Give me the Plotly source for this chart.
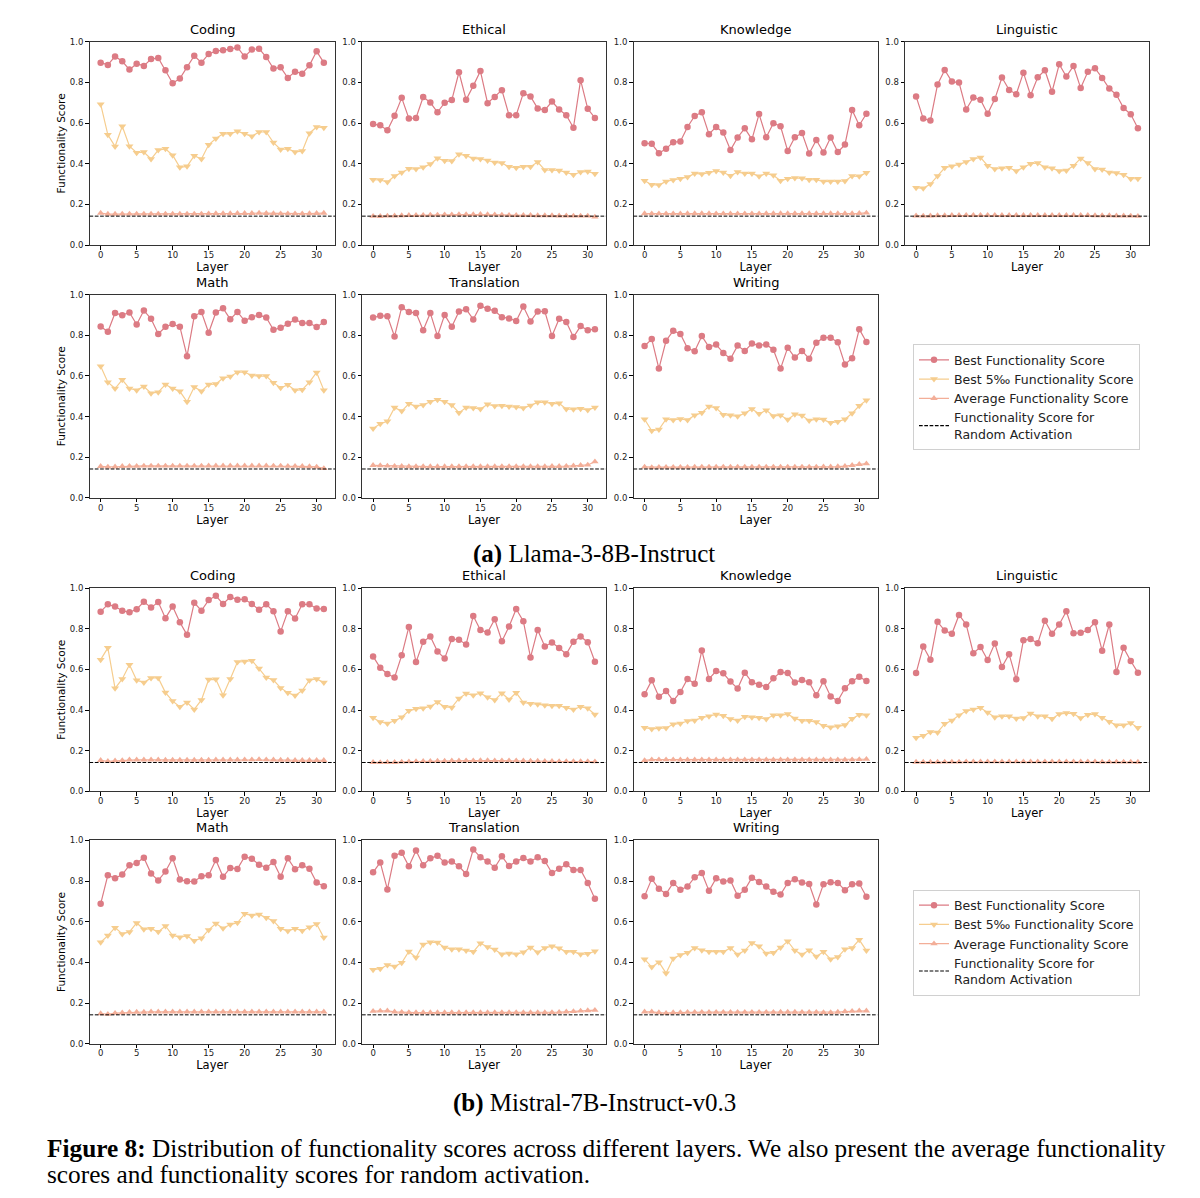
import plotly.graph_objects as go

# ---------------- data ----------------
layers = list(range(32))
categories = ["Coding", "Ethical", "Knowledge", "Linguistic", "Math", "Translation", "Writing"]
random_score = 0.142
x_ticks = [0, 5, 10, 15, 20, 25, 30]
y_ticks = [0.0, 0.2, 0.4, 0.6, 0.8, 1.0]
series_names = ["Best Functionality Score", "Best 5‰ Functionality Score",
                "Average Functionality Score", "Functionality Score for<br>Random Activation"]
section_titles = ["<b>(a)</b> Llama-3-8B-Instruct", "<b>(b)</b> Mistral-7B-Instruct-v0.3"]
caption_line1 = ("<b>Figure 8:</b> Distribution of functionality scores across different layers. "
                 "We also present the average functionality")
caption_line2 = "scores and functionality scores for random activation."

# Llama-3-8B-Instruct
llama_coding_best = [0.897, 0.886, 0.928, 0.904, 0.863, 0.892, 0.881, 0.915, 0.920, 0.860, 0.796, 0.819,
                     0.874, 0.931, 0.897, 0.940, 0.954, 0.958, 0.964, 0.972, 0.927, 0.962, 0.966, 0.925,
                     0.868, 0.874, 0.822, 0.853, 0.843, 0.884, 0.953, 0.897]
llama_coding_top = [0.693, 0.542, 0.485, 0.584, 0.486, 0.454, 0.457, 0.423, 0.467, 0.473, 0.442, 0.382,
                    0.387, 0.439, 0.423, 0.493, 0.524, 0.547, 0.547, 0.560, 0.547, 0.535, 0.556, 0.556,
                    0.504, 0.470, 0.473, 0.458, 0.462, 0.550, 0.581, 0.577]
llama_coding_avg = [0.157, 0.152, 0.152, 0.153, 0.153, 0.153, 0.153, 0.153, 0.153, 0.153, 0.153, 0.153,
                    0.153, 0.153, 0.153, 0.154, 0.155, 0.155, 0.155, 0.156, 0.156, 0.156, 0.157, 0.156,
                    0.155, 0.154, 0.154, 0.154, 0.154, 0.155, 0.156, 0.157]

llama_ethical_best = [0.595, 0.589, 0.564, 0.636, 0.724, 0.623, 0.625, 0.728, 0.701, 0.653, 0.700, 0.713,
                      0.850, 0.715, 0.783, 0.856, 0.698, 0.728, 0.762, 0.639, 0.639, 0.747, 0.731, 0.672,
                      0.664, 0.706, 0.667, 0.639, 0.577, 0.811, 0.670, 0.625]
llama_ethical_top = [0.321, 0.320, 0.310, 0.339, 0.357, 0.375, 0.374, 0.382, 0.398, 0.427, 0.414, 0.413,
                     0.447, 0.439, 0.426, 0.423, 0.416, 0.406, 0.403, 0.385, 0.380, 0.385, 0.385, 0.408,
                     0.369, 0.369, 0.367, 0.357, 0.346, 0.359, 0.362, 0.351]
llama_ethical_avg = [0.142, 0.141, 0.143, 0.144, 0.145, 0.146, 0.146, 0.147, 0.148, 0.148, 0.149, 0.149,
                     0.150, 0.150, 0.150, 0.151, 0.150, 0.149, 0.148, 0.147, 0.146, 0.146, 0.146, 0.145,
                     0.145, 0.145, 0.144, 0.144, 0.143, 0.143, 0.143, 0.138]

llama_knowledge_best = [0.501, 0.498, 0.452, 0.473, 0.506, 0.509, 0.581, 0.635, 0.653, 0.545, 0.581, 0.553,
                        0.467, 0.529, 0.574, 0.520, 0.644, 0.530, 0.599, 0.584, 0.463, 0.530, 0.551, 0.450,
                        0.517, 0.455, 0.529, 0.457, 0.494, 0.664, 0.589, 0.646]
llama_knowledge_top = [0.316, 0.297, 0.295, 0.313, 0.320, 0.326, 0.334, 0.352, 0.349, 0.356, 0.364, 0.357,
                       0.341, 0.359, 0.352, 0.352, 0.338, 0.352, 0.343, 0.316, 0.326, 0.330, 0.328, 0.321,
                       0.321, 0.312, 0.312, 0.312, 0.315, 0.339, 0.338, 0.356]
llama_knowledge_avg = [0.155, 0.154, 0.154, 0.154, 0.154, 0.154, 0.155, 0.155, 0.155, 0.155, 0.154, 0.154,
                       0.154, 0.154, 0.154, 0.154, 0.154, 0.155, 0.155, 0.155, 0.155, 0.155, 0.155, 0.155,
                       0.155, 0.155, 0.155, 0.155, 0.155, 0.155, 0.156, 0.158]

llama_linguistic_best = [0.731, 0.622, 0.612, 0.790, 0.861, 0.804, 0.799, 0.667, 0.726, 0.715, 0.646, 0.718,
                         0.824, 0.763, 0.742, 0.848, 0.737, 0.825, 0.860, 0.754, 0.889, 0.829, 0.881, 0.772,
                         0.852, 0.870, 0.822, 0.770, 0.739, 0.674, 0.643, 0.574]
llama_linguistic_top = [0.282, 0.279, 0.300, 0.339, 0.380, 0.388, 0.396, 0.409, 0.423, 0.431, 0.390, 0.374,
                        0.378, 0.380, 0.364, 0.383, 0.400, 0.403, 0.382, 0.378, 0.364, 0.367, 0.390, 0.426,
                        0.403, 0.374, 0.372, 0.357, 0.354, 0.346, 0.326, 0.326]
llama_linguistic_avg = [0.144, 0.143, 0.144, 0.145, 0.145, 0.146, 0.146, 0.147, 0.147, 0.147, 0.147, 0.147,
                        0.146, 0.146, 0.146, 0.146, 0.146, 0.146, 0.146, 0.146, 0.146, 0.146, 0.146, 0.146,
                        0.146, 0.145, 0.145, 0.145, 0.144, 0.144, 0.143, 0.142]

llama_math_best = [0.843, 0.817, 0.909, 0.899, 0.912, 0.853, 0.922, 0.881, 0.806, 0.842, 0.855, 0.842,
                   0.697, 0.894, 0.914, 0.812, 0.912, 0.933, 0.879, 0.915, 0.871, 0.889, 0.900, 0.887,
                   0.827, 0.837, 0.856, 0.878, 0.860, 0.860, 0.840, 0.865]
llama_math_top = [0.648, 0.569, 0.538, 0.581, 0.538, 0.530, 0.548, 0.515, 0.520, 0.558, 0.538, 0.524,
                  0.473, 0.545, 0.525, 0.558, 0.560, 0.589, 0.597, 0.618, 0.618, 0.602, 0.599, 0.599,
                  0.566, 0.542, 0.556, 0.529, 0.532, 0.569, 0.617, 0.530]
llama_math_avg = [0.155, 0.152, 0.153, 0.155, 0.156, 0.156, 0.157, 0.157, 0.157, 0.157, 0.157, 0.157,
                  0.157, 0.157, 0.157, 0.158, 0.158, 0.158, 0.158, 0.158, 0.158, 0.158, 0.158, 0.158,
                  0.157, 0.157, 0.156, 0.156, 0.155, 0.154, 0.152, 0.145]

llama_translation_best = [0.887, 0.896, 0.894, 0.794, 0.938, 0.914, 0.910, 0.825, 0.909, 0.796, 0.900, 0.842,
                          0.917, 0.928, 0.878, 0.945, 0.930, 0.920, 0.889, 0.883, 0.870, 0.941, 0.868, 0.917,
                          0.918, 0.796, 0.881, 0.865, 0.791, 0.845, 0.825, 0.830]
llama_translation_top = [0.341, 0.365, 0.377, 0.444, 0.427, 0.463, 0.450, 0.457, 0.473, 0.483, 0.473, 0.457,
                         0.419, 0.444, 0.442, 0.437, 0.460, 0.452, 0.453, 0.449, 0.447, 0.442, 0.455, 0.470,
                         0.471, 0.463, 0.465, 0.437, 0.436, 0.439, 0.432, 0.445]
llama_translation_avg = [0.160, 0.159, 0.157, 0.156, 0.155, 0.154, 0.154, 0.154, 0.154, 0.154, 0.154, 0.154,
                         0.154, 0.154, 0.154, 0.154, 0.154, 0.154, 0.154, 0.154, 0.154, 0.154, 0.154, 0.154,
                         0.154, 0.155, 0.155, 0.156, 0.158, 0.160, 0.162, 0.178]

llama_writing_best = [0.747, 0.781, 0.636, 0.773, 0.822, 0.806, 0.736, 0.721, 0.796, 0.742, 0.754, 0.713,
                      0.684, 0.749, 0.723, 0.759, 0.750, 0.755, 0.729, 0.636, 0.739, 0.690, 0.723, 0.685,
                      0.763, 0.788, 0.788, 0.765, 0.656, 0.687, 0.830, 0.767]
llama_writing_top = [0.387, 0.330, 0.336, 0.387, 0.383, 0.388, 0.383, 0.406, 0.419, 0.450, 0.442, 0.409,
                     0.406, 0.401, 0.416, 0.437, 0.414, 0.431, 0.403, 0.406, 0.385, 0.411, 0.405, 0.380,
                     0.387, 0.385, 0.369, 0.375, 0.387, 0.416, 0.453, 0.480]
llama_writing_avg = [0.152, 0.150, 0.151, 0.151, 0.151, 0.151, 0.151, 0.152, 0.152, 0.152, 0.152, 0.152,
                     0.152, 0.152, 0.152, 0.152, 0.152, 0.152, 0.152, 0.152, 0.152, 0.152, 0.152, 0.152,
                     0.152, 0.153, 0.153, 0.154, 0.156, 0.160, 0.165, 0.168]

# Mistral-7B-Instruct-v0.3
mistral_coding_best = [0.884, 0.920, 0.909, 0.889, 0.881, 0.896, 0.933, 0.904, 0.931, 0.852, 0.910, 0.832,
                       0.770, 0.928, 0.889, 0.941, 0.962, 0.922, 0.956, 0.943, 0.945, 0.922, 0.894, 0.920,
                       0.886, 0.786, 0.886, 0.850, 0.920, 0.920, 0.899, 0.897]
mistral_coding_top = [0.648, 0.706, 0.507, 0.553, 0.623, 0.547, 0.535, 0.558, 0.558, 0.486, 0.444, 0.416,
                      0.437, 0.403, 0.450, 0.550, 0.551, 0.473, 0.553, 0.636, 0.639, 0.643, 0.604, 0.560,
                      0.548, 0.509, 0.485, 0.471, 0.496, 0.547, 0.553, 0.535]
mistral_coding_avg = [0.153, 0.148, 0.150, 0.152, 0.155, 0.155, 0.155, 0.155, 0.155, 0.154, 0.154, 0.154,
                      0.154, 0.154, 0.154, 0.154, 0.155, 0.155, 0.155, 0.155, 0.156, 0.156, 0.157, 0.156,
                      0.155, 0.154, 0.154, 0.153, 0.153, 0.153, 0.153, 0.153]

mistral_ethical_best = [0.664, 0.608, 0.577, 0.560, 0.669, 0.809, 0.636, 0.736, 0.762, 0.688, 0.654, 0.750,
                        0.746, 0.723, 0.863, 0.794, 0.781, 0.847, 0.739, 0.811, 0.897, 0.837, 0.659, 0.794,
                        0.713, 0.732, 0.705, 0.675, 0.736, 0.762, 0.734, 0.638]
mistral_ethical_top = [0.362, 0.341, 0.334, 0.347, 0.365, 0.396, 0.406, 0.409, 0.418, 0.439, 0.416, 0.413,
                       0.457, 0.481, 0.473, 0.483, 0.463, 0.449, 0.483, 0.452, 0.485, 0.437, 0.431, 0.429,
                       0.423, 0.421, 0.421, 0.411, 0.403, 0.416, 0.409, 0.378]
mistral_ethical_avg = [0.143, 0.142, 0.143, 0.143, 0.145, 0.146, 0.147, 0.148, 0.148, 0.149, 0.149, 0.150,
                       0.150, 0.151, 0.151, 0.152, 0.152, 0.151, 0.151, 0.151, 0.151, 0.150, 0.149, 0.149,
                       0.148, 0.148, 0.147, 0.147, 0.147, 0.147, 0.147, 0.146]

mistral_knowledge_best = [0.478, 0.546, 0.465, 0.494, 0.445, 0.489, 0.553, 0.529, 0.693, 0.553, 0.592, 0.581,
                          0.540, 0.506, 0.584, 0.537, 0.525, 0.514, 0.556, 0.587, 0.582, 0.535, 0.548, 0.537,
                          0.473, 0.542, 0.467, 0.445, 0.507, 0.542, 0.564, 0.543]
mistral_knowledge_top = [0.313, 0.307, 0.310, 0.312, 0.330, 0.334, 0.346, 0.349, 0.362, 0.370, 0.378, 0.372,
                         0.356, 0.349, 0.367, 0.364, 0.362, 0.356, 0.374, 0.374, 0.380, 0.359, 0.347, 0.347,
                         0.341, 0.323, 0.315, 0.320, 0.326, 0.357, 0.377, 0.375]
mistral_knowledge_avg = [0.152, 0.156, 0.156, 0.156, 0.156, 0.155, 0.155, 0.155, 0.155, 0.155, 0.155, 0.155,
                         0.155, 0.155, 0.155, 0.155, 0.155, 0.155, 0.155, 0.155, 0.155, 0.155, 0.155, 0.155,
                         0.155, 0.155, 0.155, 0.155, 0.155, 0.156, 0.157, 0.158]

mistral_linguistic_best = [0.582, 0.713, 0.648, 0.834, 0.791, 0.775, 0.868, 0.821, 0.680, 0.710, 0.646, 0.728,
                           0.612, 0.675, 0.551, 0.744, 0.749, 0.729, 0.839, 0.775, 0.821, 0.886, 0.778, 0.780,
                           0.794, 0.832, 0.692, 0.821, 0.587, 0.706, 0.641, 0.584]
mistral_linguistic_top = [0.264, 0.274, 0.292, 0.290, 0.333, 0.349, 0.374, 0.395, 0.403, 0.411, 0.388, 0.365,
                          0.370, 0.369, 0.359, 0.361, 0.383, 0.370, 0.370, 0.357, 0.380, 0.385, 0.382, 0.361,
                          0.377, 0.380, 0.362, 0.343, 0.325, 0.325, 0.336, 0.313]
mistral_linguistic_avg = [0.144, 0.144, 0.144, 0.144, 0.145, 0.145, 0.145, 0.146, 0.146, 0.146, 0.146, 0.146,
                          0.146, 0.146, 0.146, 0.146, 0.146, 0.146, 0.146, 0.146, 0.146, 0.146, 0.146, 0.146,
                          0.146, 0.146, 0.145, 0.145, 0.145, 0.145, 0.145, 0.144]

mistral_math_best = [0.688, 0.829, 0.814, 0.832, 0.878, 0.889, 0.915, 0.837, 0.803, 0.847, 0.912, 0.808,
                     0.799, 0.798, 0.824, 0.829, 0.904, 0.821, 0.865, 0.860, 0.920, 0.910, 0.881, 0.866,
                     0.894, 0.821, 0.912, 0.858, 0.878, 0.861, 0.793, 0.775]
mistral_math_top = [0.499, 0.532, 0.571, 0.540, 0.550, 0.594, 0.563, 0.566, 0.551, 0.579, 0.532, 0.524,
                    0.530, 0.507, 0.519, 0.560, 0.591, 0.568, 0.586, 0.595, 0.639, 0.631, 0.636, 0.620,
                    0.604, 0.566, 0.555, 0.566, 0.556, 0.573, 0.589, 0.522]
mistral_math_avg = [0.148, 0.145, 0.150, 0.152, 0.155, 0.156, 0.156, 0.157, 0.157, 0.157, 0.157, 0.157,
                    0.157, 0.157, 0.157, 0.157, 0.157, 0.157, 0.157, 0.157, 0.157, 0.157, 0.157, 0.157,
                    0.157, 0.157, 0.157, 0.157, 0.157, 0.157, 0.157, 0.157]

mistral_translation_best = [0.843, 0.892, 0.759, 0.925, 0.940, 0.873, 0.951, 0.878, 0.912, 0.925, 0.891, 0.897,
                            0.873, 0.835, 0.956, 0.917, 0.897, 0.866, 0.922, 0.874, 0.897, 0.914, 0.897, 0.917,
                            0.899, 0.840, 0.861, 0.883, 0.855, 0.855, 0.791, 0.713]
mistral_translation_top = [0.364, 0.369, 0.387, 0.380, 0.398, 0.454, 0.424, 0.488, 0.499, 0.498, 0.473, 0.465,
                           0.465, 0.458, 0.452, 0.494, 0.476, 0.463, 0.440, 0.444, 0.440, 0.450, 0.473, 0.450,
                           0.471, 0.480, 0.470, 0.452, 0.453, 0.440, 0.442, 0.455]
mistral_translation_avg = [0.160, 0.161, 0.162, 0.157, 0.155, 0.154, 0.153, 0.153, 0.153, 0.153, 0.153, 0.153,
                           0.153, 0.153, 0.153, 0.153, 0.153, 0.153, 0.153, 0.153, 0.153, 0.153, 0.153, 0.153,
                           0.153, 0.154, 0.155, 0.157, 0.159, 0.161, 0.163, 0.165]

mistral_writing_best = [0.726, 0.811, 0.762, 0.737, 0.791, 0.757, 0.773, 0.819, 0.840, 0.752, 0.814, 0.798,
                        0.803, 0.728, 0.757, 0.817, 0.796, 0.773, 0.747, 0.734, 0.791, 0.809, 0.793, 0.786,
                        0.685, 0.785, 0.794, 0.791, 0.755, 0.785, 0.788, 0.723]
mistral_writing_top = [0.416, 0.377, 0.401, 0.347, 0.419, 0.437, 0.447, 0.471, 0.460, 0.453, 0.453, 0.452,
                       0.471, 0.439, 0.458, 0.496, 0.480, 0.444, 0.447, 0.473, 0.504, 0.458, 0.439, 0.460,
                       0.429, 0.452, 0.416, 0.426, 0.465, 0.471, 0.511, 0.458]
mistral_writing_avg = [0.157, 0.157, 0.153, 0.150, 0.153, 0.154, 0.155, 0.155, 0.155, 0.155, 0.155, 0.155,
                       0.155, 0.155, 0.155, 0.155, 0.155, 0.155, 0.155, 0.156, 0.156, 0.156, 0.155, 0.155,
                       0.155, 0.154, 0.154, 0.156, 0.158, 0.160, 0.162, 0.162]

llama = {
    "Coding": (llama_coding_best, llama_coding_top, llama_coding_avg),
    "Ethical": (llama_ethical_best, llama_ethical_top, llama_ethical_avg),
    "Knowledge": (llama_knowledge_best, llama_knowledge_top, llama_knowledge_avg),
    "Linguistic": (llama_linguistic_best, llama_linguistic_top, llama_linguistic_avg),
    "Math": (llama_math_best, llama_math_top, llama_math_avg),
    "Translation": (llama_translation_best, llama_translation_top, llama_translation_avg),
    "Writing": (llama_writing_best, llama_writing_top, llama_writing_avg),
}
mistral = {
    "Coding": (mistral_coding_best, mistral_coding_top, mistral_coding_avg),
    "Ethical": (mistral_ethical_best, mistral_ethical_top, mistral_ethical_avg),
    "Knowledge": (mistral_knowledge_best, mistral_knowledge_top, mistral_knowledge_avg),
    "Linguistic": (mistral_linguistic_best, mistral_linguistic_top, mistral_linguistic_avg),
    "Math": (mistral_math_best, mistral_math_top, mistral_math_avg),
    "Translation": (mistral_translation_best, mistral_translation_top, mistral_translation_avg),
    "Writing": (mistral_writing_best, mistral_writing_top, mistral_writing_avg),
}

# ---------------- layout / style ----------------
OFF = 8  # default body margin of the html page
W, H = 1200 - 2 * OFF, 1198 - 2 * OFF
FONT = "DejaVu Sans"
SERIF = "Liberation Serif"
C_BEST = "#DC7B84"
C_TOP = "#F6CD8E"
C_AVG = "#F3AE98"

col_px = [(89.5, 335.0), (362.0, 606.0), (633.5, 877.5), (905.0, 1149.0)]
row_px = [(37.0, 242.0), (292.0, 497.0), (588.0, 793.0), (842.5, 1047.5)]


def px_x(v):
    return (v - OFF) / W


def px_y(v):
    return 1 - (v - OFF) / H


fig = go.Figure()
layout = dict(
    width=W, height=H, margin=dict(l=0, r=0, t=0, b=0),
    paper_bgcolor="white", plot_bgcolor="white",
    font=dict(family=FONT, color="black"),
    annotations=[], shapes=[],
)

DASH = "3.7px,1.6px"

panel = 0
for s, data in enumerate([llama, mistral]):
    legend_name = "legend" if s == 0 else "legend2"
    for ci, cat in enumerate(categories):
        panel += 1
        r = s * 2 + (ci // 4)
        c = ci % 4
        xa = "x" if panel == 1 else f"x{panel}"
        ya = "y" if panel == 1 else f"y{panel}"
        xkey = "xaxis" if panel == 1 else f"xaxis{panel}"
        ykey = "yaxis" if panel == 1 else f"yaxis{panel}"
        x0, x1 = col_px[c]
        y0, y1 = row_px[r]
        layout[xkey] = dict(
            domain=[px_x(x0), px_x(x1)], anchor=ya, range=[-1.55, 32.55],
            tickmode="array", tickvals=x_ticks, ticks="outside", ticklen=3.5, tickwidth=0.8,
            tickcolor="black", showline=True, linecolor="#333", linewidth=1, mirror=True,
            showgrid=False, zeroline=False, tickfont=dict(size=8.5, color="#222"),
            ticklabelstandoff=-2,
            title=dict(text="Layer", font=dict(size=11.5), standoff=0),
        )
        layout[ykey] = dict(
            domain=[px_y(y1), px_y(y0)], anchor=xa, range=[0, 1.0],
            tickmode="array", tickvals=y_ticks, tickformat=".1f", ticks="outside", ticklen=3.5,
            tickwidth=0.8, tickcolor="black", showline=True, linecolor="#333", linewidth=1,
            mirror=True, showgrid=False, zeroline=False, tickfont=dict(size=8.5, color="#222"),
        )
        if c == 0:
            layout[ykey]["title"] = dict(text="Functionality Score", font=dict(size=10.5), standoff=2)
        layout["annotations"].append(dict(
            text=cat, x=px_x((x0 + x1) / 2), y=px_y(y0 - 3), xref="paper", yref="paper",
            xanchor="center", yanchor="bottom", showarrow=False, font=dict(size=13, family=FONT),
        ))
        best, top, avg = data[cat]
        show = cat == "Writing"
        fig.add_trace(go.Scatter(
            x=layers, y=best, xaxis=xa, yaxis=ya, mode="lines+markers", name=series_names[0],
            line=dict(color=C_BEST, width=1.2), marker=dict(symbol="circle", size=6.5, color=C_BEST),
            showlegend=show, legend=legend_name))
        fig.add_trace(go.Scatter(
            x=layers, y=top, xaxis=xa, yaxis=ya, mode="lines+markers", name=series_names[1],
            line=dict(color=C_TOP, width=1.2), marker=dict(symbol="triangle-down", size=7, color=C_TOP),
            showlegend=show, legend=legend_name))
        fig.add_trace(go.Scatter(
            x=layers, y=avg, xaxis=xa, yaxis=ya, mode="lines+markers", name=series_names[2],
            line=dict(color=C_AVG, width=1.2), marker=dict(symbol="triangle-up", size=6.5, color=C_AVG),
            showlegend=show, legend=legend_name))
        layout["shapes"].append(dict(
            type="line", xref=f"{xa} domain", yref=ya, x0=0, x1=1, y0=random_score, y1=random_score,
            line=dict(color="black", width=1, dash=DASH)))
        if show:
            fig.add_trace(go.Scatter(
                x=[None], y=[None], xaxis=xa, yaxis=ya, mode="lines", name=series_names[3],
                line=dict(color="black", width=1.2, dash=DASH), showlegend=True, legend=legend_name))

legend_common = dict(
    xanchor="left", yanchor="top", bgcolor="white", bordercolor="#d0d0d0", borderwidth=1,
    font=dict(size=12.5, family=FONT, color="#222"), tracegroupgap=0, itemwidth=30,
)
layout["legend"] = dict(x=px_x(913), y=px_y(342), **legend_common)
layout["legend2"] = dict(x=px_x(913), y=px_y(892), **legend_common)

layout["annotations"] += [
    dict(text=section_titles[0], x=px_x(594), y=px_y(554), xref="paper", yref="paper",
         xanchor="center", yanchor="middle", showarrow=False, font=dict(size=25, family=SERIF)),
    dict(text=section_titles[1], x=px_x(594), y=px_y(1107), xref="paper", yref="paper",
         xanchor="center", yanchor="middle", showarrow=False, font=dict(size=25, family=SERIF)),
    dict(text=caption_line1, x=px_x(45), y=px_y(1153), xref="paper", yref="paper",
         xanchor="left", yanchor="middle", showarrow=False, font=dict(size=25.3, family=SERIF)),
    dict(text=caption_line2, x=px_x(45), y=px_y(1179), xref="paper", yref="paper",
         xanchor="left", yanchor="middle", showarrow=False, font=dict(size=25.3, family=SERIF)),
]

fig.update_layout(**layout)
fig.write_html("out.html")
